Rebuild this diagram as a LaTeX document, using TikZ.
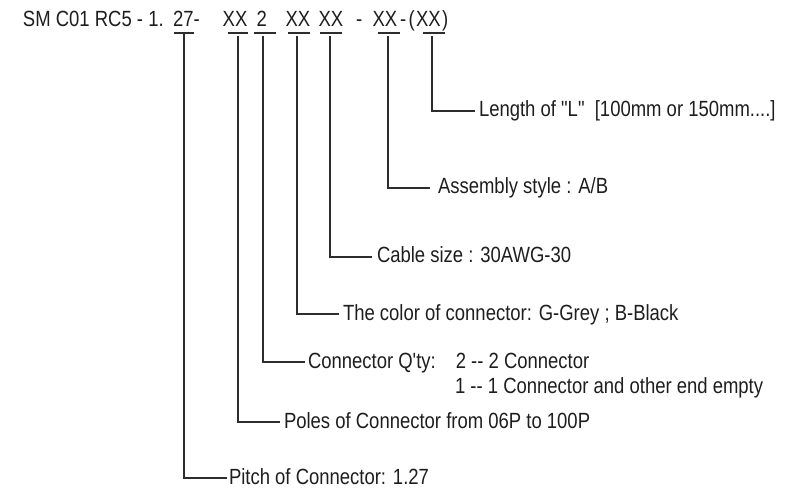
\documentclass[tikz,border=0pt]{standalone}
\usepackage{fontspec}
\setmainfont{Liberation Sans}[FakeStretch=0.84,Ligatures=TeXOff]
\definecolor{ink}{RGB}{30,30,30}
\definecolor{wire}{RGB}{45,45,45}
\begin{document}
\begin{tikzpicture}[x=1pt,y=-1pt,
  every node/.style={text=ink, font=\fontsize{22}{26}\selectfont, inner sep=0pt, outer sep=0pt},
  ttl/.style={anchor=base west},
  lab/.style={anchor=west, inner xsep=4pt, inner ysep=0pt, text height=15pt, text depth=3pt},
  conn/.style={draw=wire, line width=1.8pt},
  uline/.style={draw=wire, line width=1.6pt}]
\useasboundingbox (0,0) rectangle (801,489);
% title
\node[ttl] (t0) at (23,27) {SM C01 RC5 - 1.};
\node[ttl] (t27) at (173,27) {27};
\node[ttl] (t1) at (t27.base east) {-};
\node[ttl] (u2) at (222.7,27) {XX};
\node[ttl] (u3) at (256.7,27) {2};
\node[ttl] (u4) at (285.5,27) {XX};
\node[ttl] (u5) at (318.5,27) {XX};
\node[ttl] (t2) at (356,27) {-};
\node[ttl] (u6) at (372.5,27) {XX};
\node[ttl] (t3) at (400,27) {-};
\node[ttl] (t4) at (408.5,27) {(};
\node[ttl] (u7) at (416,27) {XX};
\node[ttl] (t5) at (442,27) {)};
% underlines
\draw[uline] ([xshift=1pt,yshift=-6pt]t27.base west) -- ([xshift=21pt,yshift=-6pt]t27.base west);
\draw[uline] ([xshift=5.3pt,yshift=-6pt]u2.base west) -- ([xshift=25.3pt,yshift=-6pt]u2.base west);
\draw[uline] ([xshift=-2.7pt,yshift=-6pt]u3.base west) -- ([xshift=19.3pt,yshift=-6pt]u3.base west);
\draw[uline] ([xshift=2.5pt,yshift=-6pt]u4.base west) -- ([xshift=24.5pt,yshift=-6pt]u4.base west);
\draw[uline] ([xshift=1.5pt,yshift=-6pt]u5.base west) -- ([xshift=23.5pt,yshift=-6pt]u5.base west);
\draw[uline] ([xshift=5.5pt,yshift=-6pt]u6.base west) -- ([xshift=27.5pt,yshift=-6pt]u6.base west);
\draw[uline] ([xshift=7pt,yshift=-6pt]u7.base west) -- ([xshift=29pt,yshift=-6pt]u7.base west);
% labels
\node[lab] (len) at (475,111) {Length of "L"\ \ [100mm or 150mm....]};
\node[lab, inner xsep=8pt] (asm) at (430,188) {Assembly style : A/B};
\node[lab, inner xsep=5pt] (cab) at (372,257) {Cable size : 30AWG-30};
\node[lab] (col) at (339,314) {The color of connector: G-Grey ; B-Black};
\node[lab, inner xsep=3pt] (qty) at (305,362) {Connector Q'ty:\hspace{20pt}2 -- 2 Connector};
\node[anchor=base west] (qty2) at (455,393) {1 -- 1 Connector and other end empty};
\node[lab] (pol) at (280,422) {Poles of Connector from 06P to 100P};
\node[lab, inner xsep=2pt] (pit) at (227,478) {Pitch of Connector: 1.27};
% connectors
\draw[conn] ([xshift=16pt,yshift=-9pt]u7.base west) |- (len.west);
\draw[conn] ([xshift=15.5pt,yshift=-9pt]u6.base west) |- (asm.west);
\draw[conn] ([xshift=11.5pt,yshift=-9pt]u5.base west) |- (cab.west);
\draw[conn] ([xshift=11.5pt,yshift=-9pt]u4.base west) |- (col.west);
\draw[conn] ([xshift=6pt,yshift=-9pt]u3.base west) |- (qty.west);
\draw[conn] ([xshift=15pt,yshift=-9pt]u2.base west) |- (pol.west);
\draw[conn] ([xshift=11pt,yshift=-6pt]t27.base west) |- (pit.west);
\end{tikzpicture}
\end{document}
